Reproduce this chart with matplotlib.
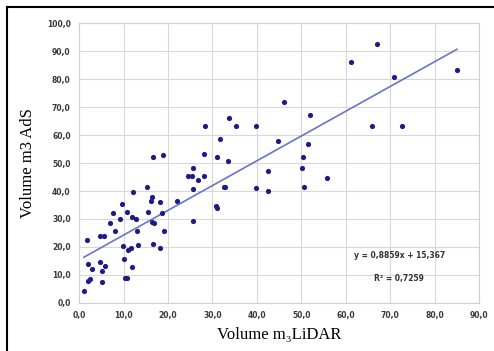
import numpy as np
import matplotlib.pyplot as plt
from matplotlib.lines import Line2D
from matplotlib.ticker import FuncFormatter

# data ########################################################################
lidar = [1.1, 1.8, 2.0, 2.5, 2.0, 2.9, 4.7, 5.9, 5.2, 5.2,
         4.7, 5.6, 7.0, 8.1, 7.7, 9.3, 9.7, 10.8, 12.2, 12.0,
         12.9, 13.1, 13.3, 9.9, 11.1, 11.7, 10.2, 12.0, 10.4, 10.8,
         15.3, 16.5, 16.2, 15.6, 16.5, 16.9, 18.3, 16.7, 18.3, 18.7,
         19.2, 16.7, 18.9, 22.1, 25.7, 25.7, 25.5, 24.4, 28.2, 30.7,
         31.1, 32.9, 33.8, 35.2, 28.4, 39.9, 31.8, 28.0, 31.1, 33.6,
         25.7, 26.8, 42.4, 32.7, 39.9, 42.4, 61.1, 67.0, 70.8, 85.0,
         46.0, 51.9, 65.9, 72.6, 44.7, 51.4, 50.3, 50.1, 55.7, 50.5]
ads = [4.3, 22.4, 7.8, 8.5, 13.9, 12.1, 14.6, 13.2, 11.4, 7.5,
       23.8, 23.8, 28.5, 25.6, 32.0, 29.9, 35.2, 32.4, 39.5, 30.6,
       29.9, 25.6, 20.6, 20.3, 18.9, 19.6, 15.7, 12.8, 8.9, 8.9,
       41.3, 37.7, 36.3, 32.4, 28.8, 28.5, 35.9, 21.0, 19.6, 32.0,
       25.6, 52.0, 53.0, 36.3, 29.2, 40.6, 45.2, 45.2, 45.2, 34.5,
       33.8, 41.6, 66.2, 63.3, 63.3, 63.3, 58.7, 53.4, 52.0, 50.9,
       48.4, 43.8, 47.3, 41.3, 40.9, 39.9, 86.1, 92.5, 80.8, 83.3,
       71.9, 67.3, 63.3, 63.3, 58.0, 56.9, 52.3, 48.4, 44.8, 41.3]

slope, intercept = 0.8859, 15.367
r2 = 0.7259

# figure ######################################################################
fig = plt.figure(figsize=(4.94, 3.51), dpi=100)
ax = fig.add_axes([0.160, 0.137, 0.810, 0.797])

ax.scatter(lidar, ads, s=14, color='#1c1c86', zorder=3, linewidths=0)

xfit = np.array([min(lidar), max(lidar)])
ax.plot(xfit, slope * xfit + intercept, color='#6676c8', lw=1.2, zorder=2)

ax.set_xlim(0, 90)
ax.set_ylim(0, 100)
ax.set_xticks(np.arange(0, 91, 10))
ax.set_yticks(np.arange(0, 101, 10))
comma = FuncFormatter(lambda v, p: f"{v:.1f}".replace('.', ','))
ax.xaxis.set_major_formatter(comma)
ax.yaxis.set_major_formatter(comma)
ax.tick_params(length=0, labelsize=5.5, colors='#3a3a3a', pad=6)
for lab in ax.get_xticklabels() + ax.get_yticklabels():
    lab.set_fontweight('bold')

ax.grid(True, color='#d8d8d8', lw=0.8)
ax.set_axisbelow(True)
for s in ax.spines.values():
    s.set_color('#d0d0d0')
    s.set_linewidth(0.8)

serif = ['Liberation Serif', 'DejaVu Serif']
ax.set_xlabel("Volume m\u2083LiDAR", family=serif, fontsize=12, labelpad=5)
ax.set_ylabel("Volume m3 AdS", family=serif, fontsize=12, labelpad=8)

ax.text(0.80, 0.171, f"y = {slope:.4f}x + {intercept:.3f}".replace('.', ','),
        transform=ax.transAxes, ha='center', va='center', fontsize=5.5,
        fontweight='bold', color='#333333')
ax.text(0.80, 0.089, f"R\u00b2 = {r2:.4f}".replace('.', ','),
        transform=ax.transAxes, ha='center', va='center', fontsize=5.5,
        fontweight='bold', color='#333333')

# outer frame (top and left only visible in the crop)
fig.add_artist(Line2D([7 / 494, 7 / 494], [0, 1 - 7 / 351], color='black',
                      lw=1.5, transform=fig.transFigure))
fig.add_artist(Line2D([7 / 494, 1], [1 - 7 / 351, 1 - 7 / 351], color='black',
                      lw=1.5, transform=fig.transFigure))

plt.savefig("out.png", dpi=100)
